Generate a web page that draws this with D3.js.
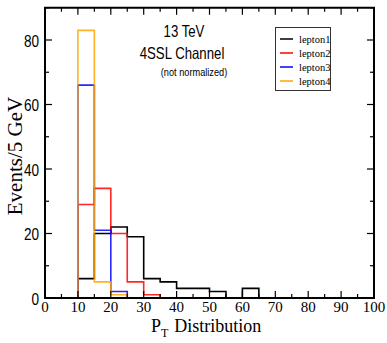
<!DOCTYPE html>
<html>
<head>
<meta charset="utf-8">
<script src="https://cdn.jsdelivr.net/npm/d3@7"></script>
<style>
  html, body { margin: 0; padding: 0; background: #fff; }
  svg { display: block; }
</style>
</head>
<body>
<svg id="chart" width="387" height="343"></svg>
<script>
// Lower edges of the 5 GeV bins (GeV) and the event counts per lepton
const binWidth = 5;
const binStart = 10;
const lepton1 = [6, 20, 22, 19, 6, 5, 3, 3, 2, 0, 3];
const lepton2 = [29, 34, 20, 5, 1];
const lepton3 = [66, 21, 2];
const lepton4 = [83, 5, 1];

const seriesNames = ["lepton1", "lepton2", "lepton3", "lepton4"];
const seriesColors = ["#000000", "#ff0000", "#0000ff", "#ffa500"];
const seriesValues = [lepton1, lepton2, lepton3, lepton4];

const xTicks = [0, 10, 20, 30, 40, 50, 60, 70, 80, 90, 100];
const yTicks = [0, 20, 40, 60, 80];

const svg = d3.select("#chart");
const plotL = 45, plotR = 374, plotT = 7.75, plotB = 298;

const x = d3.scaleLinear().domain([0, 100]).range([plotL, plotR]);
const y = d3.scaleLinear().domain([0, 90]).range([plotB, plotT]);

const sans = "'Liberation Sans', Arial, sans-serif";
const serif = "'Liberation Serif', 'Times New Roman', serif";
const narrow = 0.8; // horizontal squeeze for the condensed sans labels

// Histogram outlines as step lines
const step = d3.line().x(d => x(d[0])).y(d => y(d[1])).curve(d3.curveStepAfter);
seriesValues.forEach((vals, i) => {
  const pts = [[binStart, 0]];
  vals.forEach((v, k) => pts.push([binStart + k * binWidth, v]));
  const end = binStart + vals.length * binWidth;
  pts.push([end, vals[vals.length - 1]]);
  pts.push([end, 0]);
  svg.append("path")
    .attr("d", step(pts))
    .attr("fill", "none")
    .attr("stroke", seriesColors[i])
    .attr("stroke-width", 1.6)
    .attr("stroke-opacity", i === 0 ? 1 : 0.85);
});

// Frame with inward ticks on all four sides
const xMinor = d3.range(0, 101, 5);
const yMinor = d3.range(0, 91, 10);
const tickG = svg.append("g").attr("stroke", "#000").attr("stroke-width", 1.2);
xMinor.forEach(v => {
  const len = v % 10 === 0 ? 7 : 4;
  tickG.append("line").attr("x1", x(v)).attr("x2", x(v)).attr("y1", plotB).attr("y2", plotB - len);
  tickG.append("line").attr("x1", x(v)).attr("x2", x(v)).attr("y1", plotT).attr("y2", plotT + len);
});
yMinor.forEach(v => {
  const len = v % 20 === 0 ? 7 : 4;
  tickG.append("line").attr("x1", plotL).attr("x2", plotL + len).attr("y1", y(v)).attr("y2", y(v));
  tickG.append("line").attr("x1", plotR).attr("x2", plotR - len).attr("y1", y(v)).attr("y2", y(v));
});

svg.append("rect")
  .attr("x", plotL).attr("y", plotT)
  .attr("width", plotR - plotL).attr("height", plotB - plotT)
  .attr("fill", "none").attr("stroke", "#000").attr("stroke-width", 2);

// Tick labels
svg.append("g").selectAll("text").data(xTicks).join("text")
  .attr("x", d => x(d)).attr("y", plotB + 13.5)
  .attr("text-anchor", "middle")
  .attr("font-family", serif).attr("font-size", 15)
  .text(d => d);

svg.append("g").selectAll("text").data(yTicks).join("text")
  .attr("transform", d => `translate(${plotL - 6},${y(d) + 6.5}) scale(${narrow},1)`)
  .attr("text-anchor", "end")
  .attr("font-family", sans).attr("font-size", 17)
  .text(d => d);

// Axis titles
const xt = svg.append("text")
  .attr("x", 151).attr("y", 331.5)
  .attr("font-family", serif).attr("font-size", 18);
xt.append("tspan").text("P");
xt.append("tspan").attr("dy", 5.5).attr("font-size", 12).text("T");
xt.append("tspan").attr("dy", -5.5).attr("dx", 6).text("Distribution");

svg.append("text")
  .attr("transform", "translate(22,156) rotate(-90)")
  .attr("text-anchor", "middle")
  .attr("font-family", serif).attr("font-size", 21)
  .text("Events/5 GeV");

// Annotation
function note(txt, cx, cy, size) {
  svg.append("text")
    .attr("transform", `translate(${cx},${cy}) scale(${narrow},1)`)
    .attr("text-anchor", "middle")
    .attr("font-family", sans).attr("font-size", size)
    .text(txt);
}
note("13 TeV", 184, 37, 16.5);
note("4SSL Channel", 182, 59, 16.5);
note("(not normalized)", 194, 76, 11.5);

// Legend
const lg = svg.append("g");
lg.append("rect").attr("x", 275.5).attr("y", 27.5).attr("width", 55).attr("height", 63)
  .attr("fill", "#fff").attr("stroke", "#333").attr("stroke-width", 1);
seriesNames.forEach((name, i) => {
  const yy = 39 + i * 14;
  lg.append("line").attr("x1", 280).attr("x2", 293).attr("y1", yy).attr("y2", yy)
    .attr("stroke", seriesColors[i]).attr("stroke-width", 1.5);
  lg.append("text").attr("x", 299).attr("y", yy + 3.5)
    .attr("font-family", serif).attr("font-size", 10.5).text(name);
});
</script>
</body>
</html>
